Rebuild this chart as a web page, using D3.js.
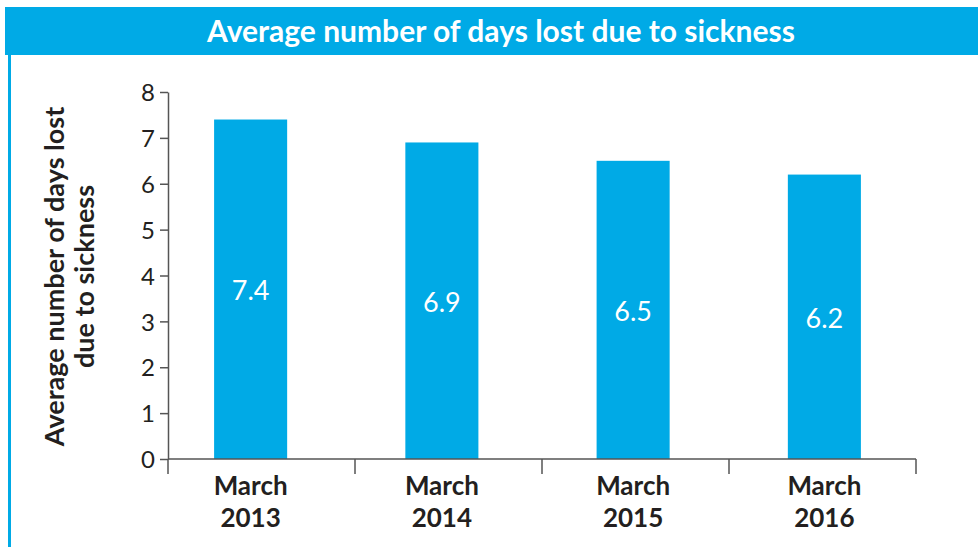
<!DOCTYPE html>
<html>
<head>
<meta charset="utf-8">
<script src="https://cdn.jsdelivr.net/npm/d3@7"></script>
<style>
  html, body { margin: 0; padding: 0; background: #fff; }
  svg { display: block; }
</style>
</head>
<body>
<svg id="chart" width="978" height="547"></svg>
<script>
// Sickness absence figures
const categories = [["March", "2013"], ["March", "2014"], ["March", "2015"], ["March", "2016"]];
const values = [7.4, 6.9, 6.5, 6.2];
const yTicks = [0, 1, 2, 3, 4, 5, 6, 7, 8];
const title = "Average number of days lost due to sickness";
const yTitle = ["Average number of days lost", "due to sickness"];

const W = 978, H = 547;
const blue = "#00aae6";
const ink = "#231f20";
const axisCol = "#555";
const font = "Lato, 'Open Sans', sans-serif";

const margin = { left: 168, right: 62, top: 92, bottom: 88 };
const svg = d3.select("#chart");

// Header band and left frame line
svg.append("rect").attr("x", 5).attr("y", 7).attr("width", W - 5).attr("height", 48).attr("fill", blue);
svg.append("line").attr("x1", 9.5).attr("x2", 9.5).attr("y1", 55).attr("y2", H).attr("stroke", blue).attr("stroke-width", 3);
svg.append("text")
  .attr("x", 501).attr("y", 42)
  .attr("text-anchor", "middle")
  .attr("fill", "#fff")
  .attr("font-family", font).attr("font-weight", 700).attr("font-size", 30)
  .text(title);

// Category slots along the axis (tick marks sit on slot boundaries)
const xAxisScale = d3.scaleBand()
  .domain(d3.range(categories.length))
  .range([margin.left, W - margin.right]);

// Bar placement
const x = d3.scaleBand()
  .domain(d3.range(categories.length))
  .range([155, 920])
  .paddingInner(0.618).paddingOuter(0.309);

const y = d3.scaleLinear().domain([0, 8]).range([H - margin.bottom, margin.top]);

// Bars
svg.append("g").selectAll("rect")
  .data(values)
  .join("rect")
  .attr("x", (d, i) => x(i))
  .attr("width", x.bandwidth())
  .attr("y", d => y(d))
  .attr("height", d => y(0) - y(d))
  .attr("fill", blue);

// Value labels inside bars
svg.append("g").selectAll("text")
  .data(values)
  .join("text")
  .attr("x", (d, i) => x(i) + x.bandwidth() / 2)
  .attr("y", d => (y(d) + y(0)) / 2 + 11)
  .attr("text-anchor", "middle")
  .attr("fill", "#fff")
  .attr("font-family", font).attr("font-size", 27)
  .text(d => d.toFixed(1));

// Y axis
const yAxis = svg.append("g")
  .attr("transform", `translate(${margin.left},0)`)
  .call(d3.axisLeft(y).tickValues(yTicks).tickSize(8).tickSizeOuter(0).tickPadding(5));
yAxis.select(".domain").attr("stroke", axisCol).attr("stroke-width", 1.5);
yAxis.selectAll(".tick line").attr("stroke", axisCol).attr("stroke-width", 1.5);
yAxis.selectAll(".tick text")
  .attr("fill", ink).attr("font-family", font).attr("font-size", 24).attr("dy", "0.36em");

// X axis: baseline with ticks at the category boundaries
const bounds = d3.range(categories.length).map(i => xAxisScale(i)).concat([W - margin.right]);
const xAxis = svg.append("g");
xAxis.append("line")
  .attr("x1", margin.left).attr("x2", W - margin.right)
  .attr("y1", y(0)).attr("y2", y(0))
  .attr("stroke", axisCol).attr("stroke-width", 1.5);
xAxis.selectAll("line.b")
  .data(bounds)
  .join("line").attr("class", "b")
  .attr("x1", d => d).attr("x2", d => d)
  .attr("y1", y(0)).attr("y2", y(0) + 15)
  .attr("stroke", axisCol).attr("stroke-width", 1.5);

const catLabels = svg.append("g").selectAll("text")
  .data(categories)
  .join("text")
  .attr("text-anchor", "middle")
  .attr("fill", ink)
  .attr("font-family", font).attr("font-weight", 700).attr("font-size", 26);
catLabels.selectAll("tspan")
  .data((d, i) => d.map(t => ({ t, i })))
  .join("tspan")
  .attr("x", d => x(d.i) + x.bandwidth() / 2)
  .attr("y", (d, j) => 495 + j * 32)
  .text(d => d.t);

// Y axis title
const yt = svg.append("text")
  .attr("transform", `translate(0, ${(margin.top + y(0)) / 2 + 1}) rotate(-90)`)
  .attr("text-anchor", "middle")
  .attr("fill", ink)
  .attr("font-family", font).attr("font-weight", 700).attr("font-size", 27);
yt.selectAll("tspan")
  .data(yTitle)
  .join("tspan")
  .attr("x", 0)
  .attr("y", (d, i) => 64 + i * 30)
  .text(d => d);
</script>
</body>
</html>
